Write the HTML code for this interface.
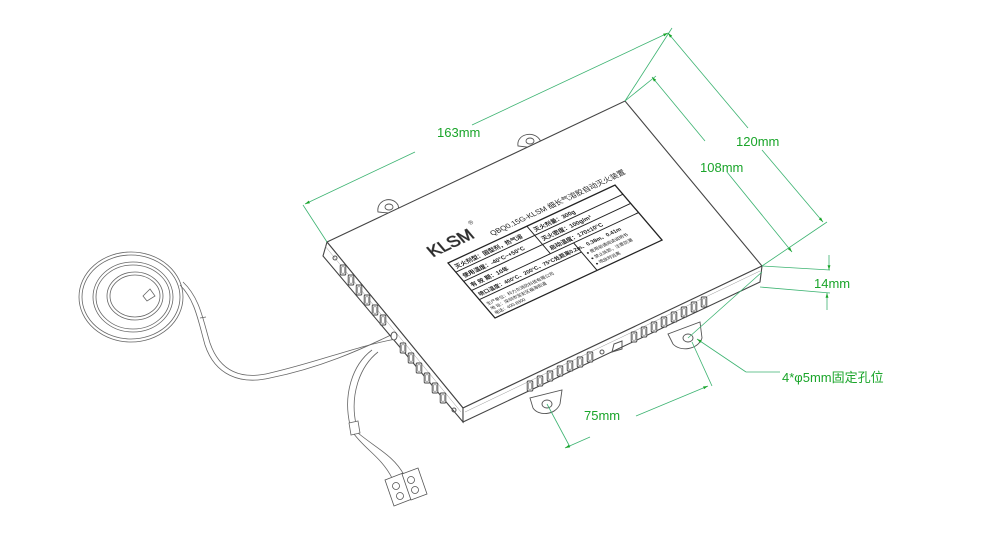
<!DOCTYPE html>
<html><head><meta charset="utf-8"><style>
html,body{margin:0;padding:0;background:#fff;width:1000px;height:539px;overflow:hidden}
svg{display:block}
.g{stroke:#3cb371;stroke-width:0.8;fill:none}
.gt{fill:#1aa52a;font-family:"Liberation Sans","Noto Sans CJK SC",sans-serif;font-size:13px}
.kt{font-family:"Liberation Sans","Noto Sans CJK SC",sans-serif;fill:#222}
</style></head><body>
<svg width="1000" height="539" viewBox="0 0 1000 539" xmlns="http://www.w3.org/2000/svg">
<defs>
<marker id="ar" viewBox="0 0 10 10" refX="10" refY="5" markerWidth="8" markerHeight="6" orient="auto-start-reverse"><path d="M0,2 L10,5 L0,8z" fill="#1aa52a"/></marker>
<g id="v"><rect x="-2.8" y="-5" width="5.6" height="10" rx="1" fill="#fff" stroke="#444" stroke-width="0.9"/><rect x="-1.3" y="-3.2" width="2.6" height="6.4" fill="none" stroke="#666" stroke-width="0.6"/></g>
</defs>

<!-- coil -->
<g fill="none" stroke="#666" stroke-width="0.8">
<ellipse cx="131" cy="297" rx="52" ry="45"/>
<ellipse cx="131" cy="297" rx="49" ry="42"/>
<ellipse cx="133" cy="297" rx="40" ry="35"/>
<ellipse cx="133" cy="297" rx="37" ry="32"/>
<ellipse cx="135" cy="296" rx="28" ry="24"/>
<ellipse cx="135" cy="296" rx="25" ry="21"/>
<path d="M150,289 l-7,7 l4,5 l8,-5z" fill="#fff"/>
<path d="M180,285 C195,300 198,320 205,345 C215,375 240,385 270,378 C320,368 360,350 393,334"/>
<path d="M183,282 C200,298 203,320 210,343 C220,372 242,380 270,373 C318,362 357,346 396,339"/>
<line x1="200" y1="318" x2="206" y2="317"/>
<path d="M372,350 C352,365 343,395 350,425"/>
<path d="M378,352 C359,367 350,396 356,424"/>
<path d="M349,423 l9,-2 l2,12 l-9,2z" fill="#fff"/>
<path d="M354,434 C366,450 382,458 392,478"/>
<path d="M358,433 C376,448 394,456 404,475"/>
</g>
<g stroke="#555" stroke-width="0.8" fill="#fff">
<path d="M385,480 l18,-7 l9,26 l-18,7z"/>
<path d="M402,474 l16,-6 l9,26 l-16,6z"/>
<circle cx="396" cy="486" r="3.5"/><circle cx="400" cy="496" r="3.5"/>
<circle cx="411" cy="480" r="3.5"/><circle cx="415" cy="490" r="3.5"/>
</g>

<!-- tabs -->
<g stroke="#555" stroke-width="0.9" fill="#fff">
<path d="M378,212 C376,200 392,195 398,205 L400,214z"/>
<ellipse cx="389" cy="207" rx="4" ry="3" fill="none"/>
<path d="M518,146 C516,134 534,130 540,140 L542,149z"/>
<ellipse cx="530" cy="141" rx="4" ry="3" fill="none"/>
<path d="M530,398 L533,408 C538,416 555,416 560,404 L562,390z"/>
<ellipse cx="547" cy="404" rx="5" ry="4" fill="none"/>
<path d="M668,334 L673,344 C680,352 698,350 702,338 L700,322z"/>
<ellipse cx="688" cy="338" rx="5" ry="4" fill="none"/>
</g>

<!-- box -->
<g stroke="#444" stroke-width="1.1" fill="#fff">
<path d="M327,242 L625,101 L762,266 L463,408z"/>
<path d="M327,242 L463,408 L463,422 L323,256z"/>
<path d="M463,408 L762,266 L760,282 L463,422z"/>
</g>
<line x1="325" y1="246" x2="461" y2="412" stroke="#999" stroke-width="0.5"/>
<line x1="465" y1="412" x2="760" y2="271" stroke="#999" stroke-width="0.5"/>

<circle cx="335" cy="258" r="2" fill="none" stroke="#555"/>
<use href="#v" x="343" y="270"/><use href="#v" x="351" y="280"/><use href="#v" x="359" y="290"/><use href="#v" x="367" y="300"/><use href="#v" x="375" y="310"/><use href="#v" x="383" y="320"/>
<ellipse cx="394" cy="336" rx="3" ry="4" fill="#fff" stroke="#555"/>
<use href="#v" x="403" y="348"/><use href="#v" x="411" y="358"/><use href="#v" x="419" y="368"/><use href="#v" x="427" y="378"/><use href="#v" x="435" y="388"/><use href="#v" x="443" y="398"/>
<circle cx="454" cy="410" r="2" fill="none" stroke="#555"/>
<use href="#v" x="530" y="386"/><use href="#v" x="540" y="381"/><use href="#v" x="550" y="376"/><use href="#v" x="560" y="371"/><use href="#v" x="570" y="366"/><use href="#v" x="580" y="362"/><use href="#v" x="590" y="357"/>
<circle cx="602" cy="352" r="2" fill="none" stroke="#555"/>
<path d="M612,352 l2,-8 l8,-3 l0,8z" fill="none" stroke="#555"/>
<use href="#v" x="634" y="337"/><use href="#v" x="644" y="332"/><use href="#v" x="654" y="327"/><use href="#v" x="664" y="322"/><use href="#v" x="674" y="317"/><use href="#v" x="684" y="312"/><use href="#v" x="694" y="307"/><use href="#v" x="704" y="302"/>

<!-- label -->
<g transform="matrix(0.928,-0.433,0.653,0.764,448,263)">
<text class="kt" x="-8" y="-12" font-size="17" fill="none" stroke="#444" stroke-width="0.7">KLSM</text>
<text class="kt" x="42" y="-26" font-size="6">®</text>
<text class="kt" x="52" y="-6" font-size="7.5">QBQ0.15G-KLSM 细长气溶胶自动灭火装置</text>
<rect x="0" y="0" width="180" height="72" fill="none" stroke="#222" stroke-width="1.3"/>
<line x1="0" y1="12" x2="180" y2="12" stroke="#222"/>
<line x1="0" y1="24" x2="180" y2="24" stroke="#222"/>
<line x1="0" y1="36" x2="180" y2="36" stroke="#222"/>
<line x1="0" y1="48" x2="110" y2="48" stroke="#222"/>
<line x1="85" y1="0" x2="85" y2="36" stroke="#222"/>
<line x1="110" y1="36" x2="110" y2="72" stroke="#222"/>
<g font-size="6" class="kt" font-weight="bold">
<text x="3" y="9">灭火剂型：固型剂，热气溶</text>
<text x="3" y="21">使用温度：-40°C~+50°C</text>
<text x="3" y="33">有 效 期：10年</text>
<text x="3" y="45" font-size="5.5">喷口温度：400°C、200°C、75°C处距离0.2m、0.38m、0.41m</text>
<text x="88" y="9">灭火剂量：300g</text>
<text x="88" y="21">灭火密度：100g/m³</text>
<text x="88" y="33">启动温度：170±10°C</text>
</g>
<g font-size="4.5" class="kt">
<text x="3" y="57">生产单位：科力尔消防科技有限公司</text><text x="3" y="63">地 址：深圳市宝安区福海街道</text><text x="3" y="69">电话：400-8800</text>
<text x="113" y="53">● 使用前请阅读说明书</text><text x="113" y="60">● 禁止拆卸，注意防潮</text><text x="113" y="67">● 喷放时远离</text>
</g>
</g>

<!-- dimensions -->
<g class="g">
<line x1="327" y1="242" x2="303" y2="205"/>
<line x1="625" y1="101" x2="672" y2="28"/>
<path d="M305,204 L415,152" marker-start="url(#ar)"/>
<path d="M472,125 L668,33" marker-end="url(#ar)"/>
<line x1="625" y1="101" x2="656" y2="76"/>
<line x1="762" y1="266" x2="827" y2="222"/>
<path d="M668,33 L748,128" marker-start="url(#ar)"/>
<path d="M762,150 L823,222" marker-end="url(#ar)"/>
<path d="M652,77 L705,141" marker-start="url(#ar)"/>
<path d="M727,172 L792,252" marker-end="url(#ar)"/>
<line x1="762" y1="266" x2="830" y2="270"/>
<line x1="760" y1="287" x2="830" y2="293"/>
<path d="M829,255 L829,270" marker-end="url(#ar)"/>
<path d="M827,310 L827,293" marker-end="url(#ar)"/>
<line x1="688" y1="338" x2="762" y2="272"/>
<path d="M746,372 L697,339" marker-end="url(#ar)"/>
<line x1="746" y1="372" x2="780" y2="372"/>
<line x1="547" y1="404" x2="570" y2="447"/>
<line x1="692" y1="342" x2="712" y2="386"/>
<path d="M565,448 L590,437" marker-start="url(#ar)"/>
<path d="M636,416 L708,386" marker-end="url(#ar)"/>
</g>
<text class="gt" x="437" y="137">163mm</text>
<text class="gt" x="736" y="146">120mm</text>
<text class="gt" x="700" y="172">108mm</text>
<text class="gt" x="814" y="288">14mm</text>
<text class="gt" x="584" y="420">75mm</text>
<text class="gt" x="782" y="382">4*φ5mm固定孔位</text>
</svg>
</body></html>
